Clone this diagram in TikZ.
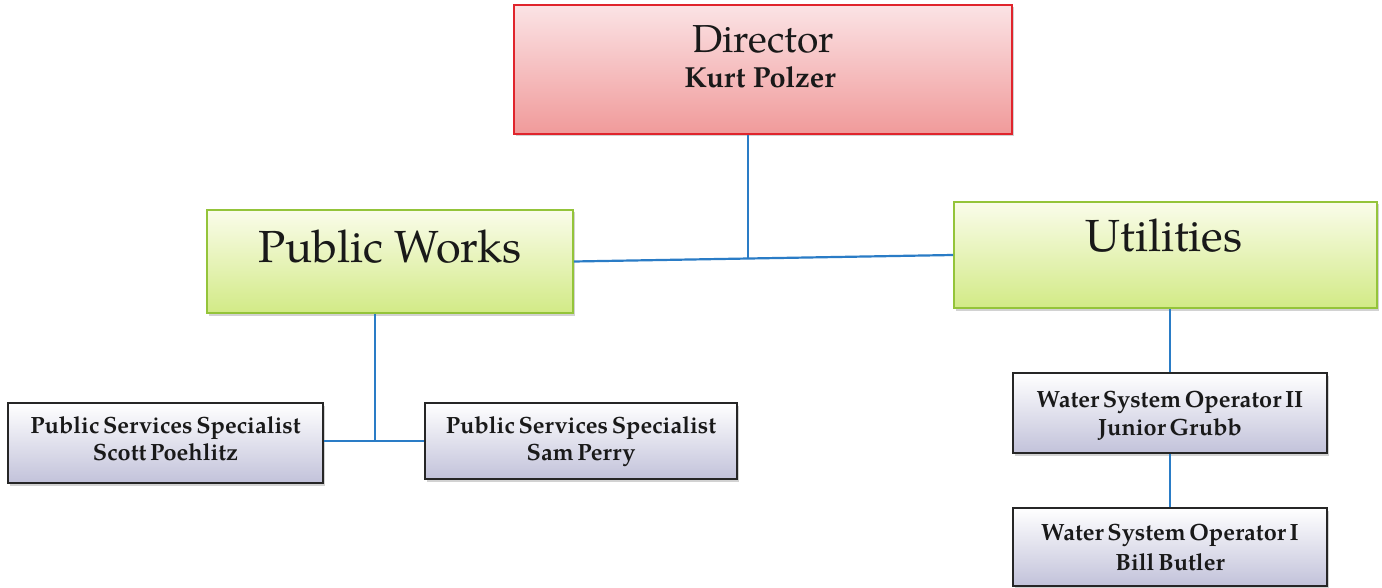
\documentclass[tikz,border=0pt]{standalone}
\usepackage{fontspec}
\setmainfont{TeX Gyre Pagella}
\newfontfamily\tightpagella{TeX Gyre Pagella}[WordSpace=0.62]
\usetikzlibrary{shadows}

\definecolor{dirtop}{HTML}{FBE3E5}
\definecolor{dirbot}{HTML}{F09A9A}
\definecolor{dirline}{HTML}{E0242C}
\definecolor{unittop}{HTML}{FAFCEA}
\definecolor{unitbot}{HTML}{D2EA86}
\definecolor{unitline}{HTML}{94C43A}
\definecolor{stafftop}{HTML}{FFFFFF}
\definecolor{staffbot}{HTML}{C2C2DA}
\definecolor{staffline}{HTML}{262626}
\definecolor{link}{HTML}{2A7CC6}

\tikzset{
  box/.style={draw, line width=1.8pt, inner sep=0pt, rectangle,
    drop shadow={shadow xshift=2pt, shadow yshift=-2.5pt, opacity=0.35}},
  dirbox/.style={box, draw=dirline, top color=dirtop, bottom color=dirbot},
  unitbox/.style={box, draw=unitline, top color=unittop, bottom color=unitbot},
  staffbox/.style={box, draw=staffline, top color=stafftop, bottom color=staffbot},
  conn/.style={draw=link, line width=2.2pt},
  txt/.style={anchor=base, inner sep=0pt, text=black!90},
  stafftxt/.style={txt, font=\tightpagella\fontsize{23.5}{26}\selectfont\bfseries},
}

\begin{document}
\begin{tikzpicture}[x=1pt, y=-1pt]
  \useasboundingbox[fill=white] (0,0) rectangle (1382,588);

  % boxes
  \node[dirbox, minimum width=498pt, minimum height=129pt] (dir) at (763,69.5) {};
  \node[unitbox, minimum width=366pt, minimum height=103pt] (pw) at (390,261.5) {};
  \node[unitbox, minimum width=423pt, minimum height=106pt] (util) at (1165.5,255) {};
  \node[staffbox, minimum width=315pt, minimum height=80pt] (specL) at (165.5,443) {};
  \node[staffbox, minimum width=312pt, minimum height=76pt] (specR) at (581,441) {};
  \node[staffbox, minimum width=314pt, minimum height=80pt] (wso2) at (1170,413) {};
  \node[staffbox, minimum width=314pt, minimum height=78pt] (wso1) at (1170,547) {};

  % texts
  \node[txt, font=\fontsize{39}{42}\selectfont] (dirT) at (763,53) {Director};
  \node[txt, font=\fontsize{29}{32}\selectfont\bfseries] (dirN) at (760,88) {Kurt Polzer};
  \node[txt, font=\fontsize{45}{48}\selectfont] (pwT) at (390,262) {Public Works};
  \node[txt, font=\fontsize{45}{48}\selectfont] (utilT) at (1164,252) {Utilities};
  \node[stafftxt] (specLT) at (165.5,433) {Public Services Specialist};
  \node[stafftxt] (specLN) at (165.5,460) {Scott Poehlitz};
  \node[stafftxt] (specRT) at (581,433) {Public Services Specialist};
  \node[stafftxt] (specRN) at (581,460) {Sam Perry};
  \node[stafftxt] (wso2T) at (1170,407) {Water System Operator II};
  \node[stafftxt] (wso2N) at (1170,435) {Junior Grubb};
  \node[stafftxt] (wso1T) at (1170,540) {Water System Operator I};
  \node[stafftxt] (wso1N) at (1170,570) {Bill Butler};

  % connectors
  \coordinate (j1) at (748,258.5);
  \coordinate (j2) at (375,441);
  \draw[conn] (dir.south -| j1) -- (j1);
  \draw[conn] (pw.east) -- (util.west);
  \draw[conn] (pw.south -| j2) -- (j2);
  \draw[conn] (specL.east |- j2) -- (specR.west |- j2);
  \draw[conn] (util.south -| wso2.north) -- (wso2.north);
  \draw[conn] (wso2.south) -- (wso1.north);
\end{tikzpicture}
\end{document}
